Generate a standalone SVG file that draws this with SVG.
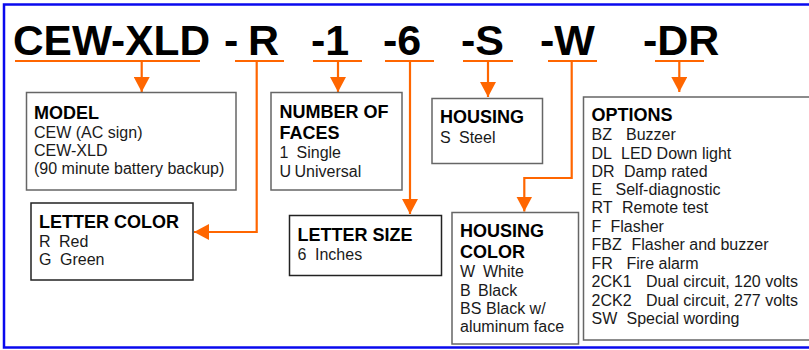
<svg xmlns="http://www.w3.org/2000/svg" width="809" height="350" viewBox="0 0 809 350">
<defs>
<style>
.frame{fill:#fff;stroke:#0a0aee;stroke-width:2.5}
.box{fill:#fff;stroke:#666;stroke-width:1.5}
.boxd{fill:#fff;stroke:#222;stroke-width:1.5}
.code{font-family:"Liberation Sans",Arial,sans-serif;font-weight:bold;font-size:43px;fill:#000}
.h{font-family:"Liberation Sans",Arial,sans-serif;font-weight:bold;font-size:18px;fill:#000}
.t{font-family:"Liberation Sans",Arial,sans-serif;font-size:16px;fill:#1a1a1a}
.ul{stroke:#ff6600;stroke-width:2;fill:none}
.con{stroke:#ff6600;stroke-width:2.2;fill:none}
</style>
<marker id="ah" markerUnits="userSpaceOnUse" markerWidth="16" markerHeight="16" viewBox="0 0 16 16" refX="15" refY="8" orient="auto">
<path d="M0,0 L15,8 L0,16 Z" fill="#ff6600"/>
</marker>
</defs>
<rect class="frame" x="4" y="4.5" width="830" height="343"/>
<g id="title">
<text class="code" x="13" y="55" textLength="197" lengthAdjust="spacingAndGlyphs">CEW-XLD</text>
<text class="code" x="224" y="55">-</text>
<text class="code" x="248" y="55">R</text>
<text class="code" x="311" y="55">-1</text>
<text class="code" x="383" y="55">-6</text>
<text class="code" x="461" y="55">-S</text>
<text class="code" x="540" y="55">-W</text>
<text class="code" x="643" y="55">-DR</text>
</g>
<g id="connectors">
<line class="ul" x1="15" y1="61" x2="200" y2="61"/>
<line class="ul" x1="235" y1="61" x2="284" y2="61"/>
<line class="ul" x1="313" y1="61" x2="362" y2="61"/>
<line class="ul" x1="385" y1="61" x2="434" y2="61"/>
<line class="ul" x1="463" y1="61" x2="513" y2="61"/>
<line class="ul" x1="548" y1="61" x2="597" y2="61"/>
<line class="ul" x1="655" y1="61" x2="704" y2="61"/>
<path class="con" d="M141.7,61 V92" marker-end="url(#ah)"/>
<path class="con" d="M256.7,61 V232 H194" marker-end="url(#ah)"/>
<path class="con" d="M338,61 V92" marker-end="url(#ah)"/>
<path class="con" d="M410,61 V214" marker-end="url(#ah)"/>
<path class="con" d="M488,61 V97" marker-end="url(#ah)"/>
<path class="con" d="M571.7,61 V178 H524.3 V211.5" marker-end="url(#ah)"/>
<path class="con" d="M679.3,61 V92" marker-end="url(#ah)"/>
</g>
<g id="model">
<rect class="box" x="26.5" y="92.5" width="209.5" height="97.5"/>
<text class="h" x="34" y="118.5">MODEL</text>
<text class="t" x="34" y="137.5">CEW (AC sign)</text>
<text class="t" x="34" y="155.5">CEW-XLD</text>
<text class="t" x="34" y="173.5">(90 minute battery backup)</text>
</g>
<g id="letter-color">
<rect class="boxd" x="31" y="203" width="162" height="77"/>
<text class="h" x="39" y="227.5">LETTER COLOR</text>
<text class="t" x="39" y="246.5">R<tspan x="59">Red</tspan></text>
<text class="t" x="39" y="265">G<tspan x="60">Green</tspan></text>
</g>
<g id="faces">
<rect class="box" x="271" y="92.5" width="131" height="97.5"/>
<text class="h" x="279.5" y="117.5">NUMBER OF</text>
<text class="h" x="279.5" y="138.5">FACES</text>
<text class="t" x="279.5" y="157.5">1<tspan x="296.5">Single</tspan></text>
<text class="t" x="279.5" y="176.5">U<tspan x="294.5">Universal</tspan></text>
</g>
<g id="housing">
<rect class="box" x="432" y="98.5" width="110.5" height="65"/>
<text class="h" x="440" y="122.5">HOUSING</text>
<text class="t" x="440" y="142.5">S<tspan x="459">Steel</tspan></text>
</g>
<g id="letter-size">
<rect class="boxd" x="289.5" y="215.5" width="152" height="60"/>
<text class="h" x="297.5" y="240.5">LETTER SIZE</text>
<text class="t" x="297.5" y="260">6<tspan x="315">Inches</tspan></text>
</g>
<g id="housing-color">
<rect class="box" x="452" y="212.5" width="126.5" height="131.5"/>
<text class="h" x="460" y="236.5">HOUSING</text>
<text class="h" x="460" y="257.5">COLOR</text>
<text class="t" x="460" y="276.5">W<tspan x="483">White</tspan></text>
<text class="t" x="460" y="295.5">B<tspan x="478">Black</tspan></text>
<text class="t" x="460" y="313.5">BS<tspan x="486">Black w/</tspan></text>
<text class="t" x="460" y="331.5">aluminum face</text>
</g>
<g id="options">
<rect class="box" x="583.5" y="97" width="240" height="243"/>
<text class="h" x="591.5" y="121">OPTIONS</text>
<text class="t" x="591.5" y="140">BZ<tspan x="626">Buzzer</tspan></text>
<text class="t" x="591.5" y="158.5">DL<tspan x="621">LED Down light</tspan></text>
<text class="t" x="591.5" y="176.8">DR<tspan x="624">Damp rated</tspan></text>
<text class="t" x="591.5" y="195">E<tspan x="615.5">Self-diagnostic</tspan></text>
<text class="t" x="591.5" y="213.4">RT<tspan x="622">Remote test</tspan></text>
<text class="t" x="591.5" y="231.7">F<tspan x="610.5">Flasher</tspan></text>
<text class="t" x="591.5" y="250">FBZ<tspan x="631.5">Flasher and buzzer</tspan></text>
<text class="t" x="591.5" y="268.8">FR<tspan x="626.5">Fire alarm</tspan></text>
<text class="t" x="591.5" y="287.3">2CK1<tspan x="646">Dual circuit, 120 volts</tspan></text>
<text class="t" x="591.5" y="305.7">2CK2<tspan x="646">Dual circuit, 277 volts</tspan></text>
<text class="t" x="591.5" y="324">SW<tspan x="626.5">Special wording</tspan></text>
</g>
</svg>
